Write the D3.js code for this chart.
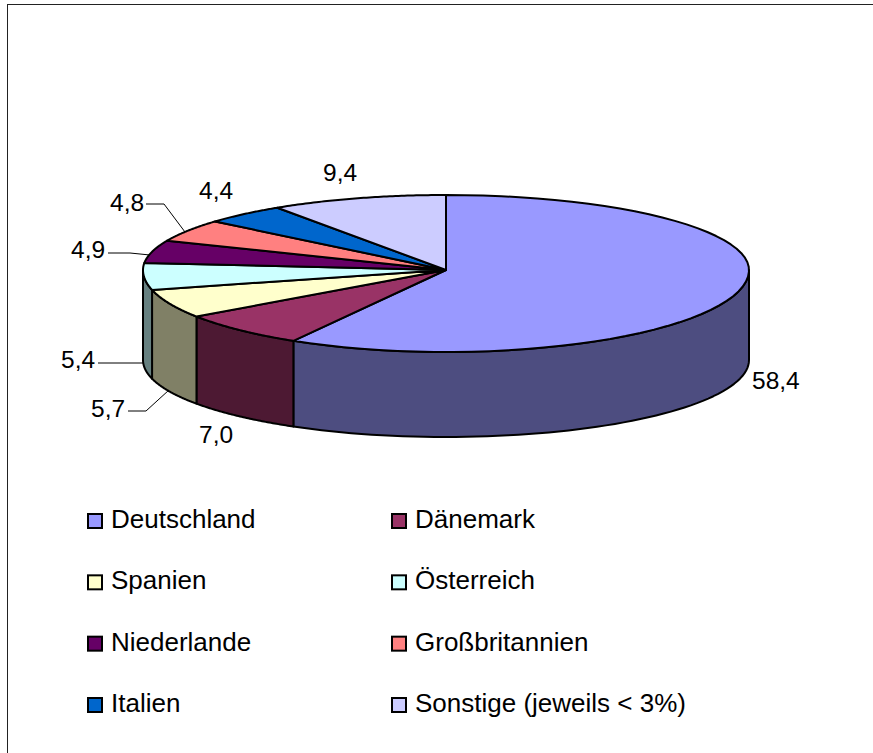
<!DOCTYPE html>
<html>
<head>
<meta charset="utf-8">
<script src="https://cdn.jsdelivr.net/npm/d3@7"></script>
<style>
  body { margin: 0; background: #fff; }
  text { font-family: "Liberation Sans", Arial, sans-serif; fill: #000; }
  text.value { font-size: 24.5px; }
  text.legend { font-size: 26px; }
</style>
</head>
<body>
<svg id="chart" width="873" height="753"></svg>
<script>
const countries = ["Deutschland", "Dänemark", "Spanien", "Österreich", "Niederlande", "Großbritannien", "Italien", "Sonstige (jeweils < 3%)"];
const shares = [58.4, 7.0, 5.7, 5.4, 4.9, 4.8, 4.4, 9.4];
const shareLabels = ["58,4", "7,0", "5,7", "5,4", "4,9", "4,8", "4,4", "9,4"];
const topColors = ["#9999ff", "#993366", "#ffffcc", "#ccffff", "#660066", "#ff8080", "#0066cc", "#ccccff"];
const sideColors = ["#4d4d80", "#4d1933", "#808066", "#668080", "#330033", "#804040", "#003366", "#666680"];

const svg = d3.select("#chart");

// outer frame
svg.append("rect")
    .attr("x", 7.5).attr("y", 4.5)
    .attr("width", 880).attr("height", 760)
    .attr("fill", "none")
    .attr("stroke", "#222");

// the pie is an ellipse, a bit taller in front because of the perspective
const cx = 446, cy = 270, rx = 303, ryBack = 75, ryFront = 82;
const botCy = 360, botRy = 77;

function topPoint(a) {
    const c = Math.cos(a);
    return [cx + rx * Math.sin(a), cy - c * (c > 0 ? ryBack : ryFront)];
}
function bottomPoint(a) {
    return [cx + rx * Math.sin(a), botCy - Math.cos(a) * botRy];
}

const pieData = d3.pie().sort(null).value((d, i) => shares[i])(countries);
const line = d3.line();

function arcPoints(fn, a0, a1) {
    return d3.range(0, 61).map(i => fn(a0 + (a1 - a0) * i / 60));
}

const g = svg.append("g")
    .attr("stroke", "#000")
    .attr("stroke-width", 2)
    .attr("stroke-linejoin", "round");

// side walls, only the front half of the pie shows them
pieData.forEach((d, i) => {
    const a0 = Math.max(d.startAngle, Math.PI / 2);
    const a1 = Math.min(d.endAngle, Math.PI * 1.5);
    if (a1 <= a0) return;
    const pts = arcPoints(topPoint, a0, a1).concat(arcPoints(bottomPoint, a0, a1).reverse());
    g.append("path")
        .attr("d", line(pts) + "Z")
        .attr("fill", sideColors[i]);
});

// top slices
pieData.forEach((d, i) => {
    const pts = [[cx, cy]].concat(arcPoints(topPoint, d.startAngle, d.endAngle));
    g.append("path")
        .attr("d", line(pts) + "Z")
        .attr("fill", topColors[i]);
});

// value labels
const labelX = [752, 199, 91, 61, 71, 110, 199, 323];
const labelY = [389, 443, 417, 368, 258, 211, 199, 181];
svg.selectAll("text.value")
    .data(shareLabels)
    .enter()
    .append("text")
    .attr("class", "value")
    .attr("x", (d, i) => labelX[i])
    .attr("y", (d, i) => labelY[i])
    .text(d => d);

// leader lines
const leaders = [
    [[98, 363], [143, 363]],
    [[128, 411], [146, 411], [169, 390]],
    [[108, 253], [130, 253], [150, 255]],
    [[146, 204], [164, 204], [185, 232]]
];
leaders.forEach(l => {
    svg.append("path")
        .attr("d", line(l))
        .attr("fill", "none")
        .attr("stroke", "#000")
        .attr("stroke-width", 1);
});

// legend, two columns and four rows
const legendX = d3.scalePoint().domain([0, 1]).range([88, 392]);
const legendY = d3.scalePoint().domain([0, 1, 2, 3]).range([521, 705]);

countries.forEach((c, i) => {
    const col = i % 2, row = Math.floor(i / 2);
    const x = legendX(col), y = legendY(row);
    svg.append("rect")
        .attr("x", x).attr("y", y - 7)
        .attr("width", 14).attr("height", 14)
        .attr("fill", topColors[i])
        .attr("stroke", "#000")
        .attr("stroke-width", 2);
    svg.append("text")
        .attr("class", "legend")
        .attr("x", x + 23)
        .attr("y", y + 7)
        .text(c);
});
</script>
</body>
</html>
